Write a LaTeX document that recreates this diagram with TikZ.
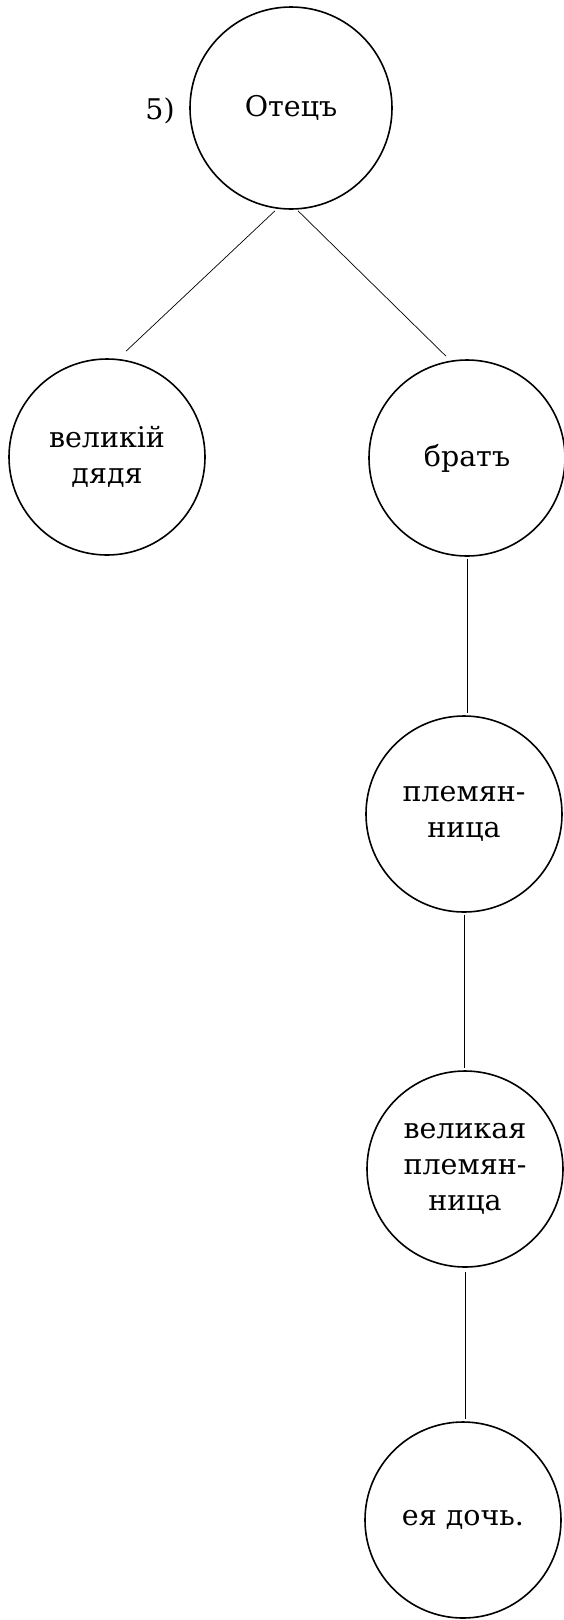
\documentclass[tikz,border=0pt]{standalone}
\usepackage{fontspec}
\setmainfont{DejaVu Serif}
\begin{document}
\begin{tikzpicture}[x=1pt,y=-1pt,
  circ/.style={circle,draw=black,line width=1.6pt,minimum size=196pt,inner sep=0pt,
    align=center,font=\fontsize{28.5}{36}\selectfont},
  lbl/.style={font=\fontsize{28.5}{36}\selectfont,inner sep=0pt},
  link/.style={line width=0.7pt}]
\useasboundingbox (0,0) rectangle (564,1620);
\fill[white] (0,0) rectangle (564,1620);
\node[circ,minimum size=202pt] (f) at (291,108) {Отецъ};
\node[lbl] (n5) at (160,111) {5)};
\node[circ] (u) at (107,457) {великій\\дядя};
\node[circ] (b) at (467,458) {братъ};
\node[circ] (n) at (464,814) {племян-\\ница};
\node[circ] (g) at (465,1169) {великая\\племян-\\ница};
\node[circ] (d) at (463,1520) {ея дочь.};
\draw[link] ([xshift=-16pt,yshift=-1pt]f.south) -- ([xshift=19pt,yshift=7pt]u.north);
\draw[link] ([xshift=7pt,yshift=-1pt]f.south) -- ([xshift=-21pt,yshift=3pt]b.north);
\draw[link] ([yshift=-2pt]b.south) -- ([yshift=2pt]b.south |- n.north);
\draw[link] ([yshift=-2pt]n.south) -- ([yshift=2pt]n.south |- g.north);
\draw[link] ([yshift=-4pt]g.south) -- ([yshift=2pt]g.south |- d.north);
\end{tikzpicture}
\end{document}
